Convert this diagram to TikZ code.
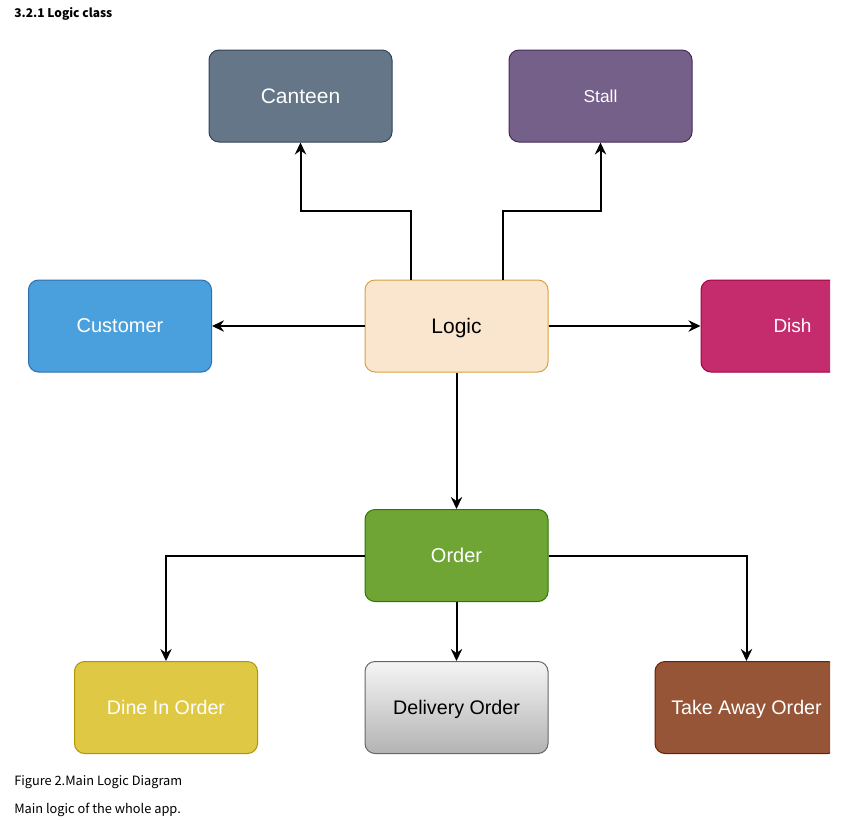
\documentclass[tikz,border=0pt]{standalone}
\usepackage{fontspec}
\setmainfont{Liberation Sans}
\newfontfamily\cjk{Noto Sans CJK SC}
\usetikzlibrary{arrows.meta,calc}

\definecolor{canteenfill}{RGB}{100,118,135}
\definecolor{canteenline}{RGB}{49,67,84}
\definecolor{stallfill}{RGB}{117,96,138}
\definecolor{stallline}{RGB}{67,45,87}
\definecolor{customerfill}{RGB}{74,160,220}
\definecolor{customerline}{RGB}{48,110,170}
\definecolor{logicfill}{RGB}{250,230,207}
\definecolor{logicline}{RGB}{215,160,64}
\definecolor{dishfill}{RGB}{197,44,110}
\definecolor{dishline}{RGB}{165,0,64}
\definecolor{orderfill}{RGB}{111,165,53}
\definecolor{orderline}{RGB}{45,118,0}
\definecolor{dineinfill}{RGB}{223,200,67}
\definecolor{dineinline}{RGB}{176,149,0}
\definecolor{takeawayfill}{RGB}{150,85,55}
\definecolor{takeawayline}{RGB}{109,31,0}

\tikzset{
  box/.style={rounded corners=7.5pt, minimum width=137.25pt, minimum height=69pt,
    inner sep=0pt, text depth=0pt, line width=0.75pt, text=white, font=\fontsize{15}{18}\selectfont},
  link/.style={line width=1.5pt, -{Stealth[length=9pt,width=8.5pt,inset=3pt]}},
  caption/.style={anchor=west, inner sep=0pt, font=\cjk\fontsize{9.6}{11}\selectfont},
}

\begin{document}
\begin{tikzpicture}[x=0.75pt,y=0.75pt,yscale=-1,xscale=1]
    \useasboundingbox (0,0) rectangle (851,819);
    
    %Text: heading
    \node[caption, font=\cjk\bfseries\fontsize{9}{11}\selectfont] (heading) at (14,14) {3.2.1 Logic class};
    
    \begin{scope}
    \clip (0,0) rectangle (830,819);
    %Shape: Rectangle [Canteen]
    \node[box, draw=canteenline, fill=canteenfill, font=\fontsize{15.75}{18}\selectfont] (canteen) at (300.5,96) {Canteen};
    %Shape: Rectangle [Stall]
    \node[box, draw=stallline, fill=stallfill, font=\fontsize{13}{16}\selectfont] (stall) at (600.5,96) {Stall};
    %Shape: Rectangle [Customer]
    \node[box, draw=customerline, fill=customerfill] (customer) at (120,326) {Customer};
    %Shape: Rectangle [Logic]
    \node[box, draw=logicline, fill=logicfill, text=black, font=\fontsize{15.75}{18}\selectfont] (logic) at (456.5,326) {Logic};
    %Shape: Rectangle [Dish]
    \node[box, draw=dishline, fill=dishfill, font=\fontsize{14.25}{17}\selectfont] (dish) at (792.5,326) {Dish};
    %Shape: Rectangle [Order]
    \node[box, draw=orderline, fill=orderfill] (order) at (456.5,555.5) {Order};
    %Shape: Rectangle [Dine In Order]
    \node[box, draw=dineinline, fill=dineinfill, font=\fontsize{14.75}{18}\selectfont] (dinein) at (166,707.5) {Dine In Order};
    %Shape: Rectangle [Delivery Order]
    \node[box, draw={rgb,255:red,102;green,102;blue,102}, top color={rgb,255:red,245;green,245;blue,245}, bottom color={rgb,255:red,179;green,179;blue,179}, text=black, font=\fontsize{14.75}{18}\selectfont] (delivery) at (456.5,707.5) {Delivery Order};
    %Shape: Rectangle [Take Away Order]
    \node[box, draw=takeawayline, fill=takeawayfill, font=\fontsize{14.75}{18}\selectfont] (takeaway) at (746.5,707.5) {Take Away Order};
    \end{scope}
    
    %Straight Lines [Logic -> Canteen]
    \draw[link] ($(logic.north west)!0.25!(logic.north east)$) -- ++(0,-69) -| (canteen.south);
    %Straight Lines [Logic -> Stall]
    \draw[link] ($(logic.north west)!0.75!(logic.north east)$) -- ++(0,-69) -| (stall.south);
    %Straight Lines [Logic -> Customer]
    \draw[link] (logic.west) -- (customer.east);
    %Straight Lines [Logic -> Dish]
    \draw[link] (logic.east) -- (dish.west);
    %Straight Lines [Logic -> Order]
    \draw[link] (logic.south) -- (order.north);
    %Straight Lines [Order -> Dine In Order]
    \draw[link] (order.west) -| (dinein.north);
    %Straight Lines [Order -> Delivery Order]
    \draw[link] (order.south) -- (delivery.north);
    %Straight Lines [Order -> Take Away Order]
    \draw[link] (order.east) -| (takeaway.north);
    
    %Text: captions
    \node[caption] (figcaption) at (14,782) {Figure 2.Main Logic Diagram};
    \node[caption] (figtext) at (14,810) {Main logic of the whole app.};
    
\end{tikzpicture}
\end{document}
